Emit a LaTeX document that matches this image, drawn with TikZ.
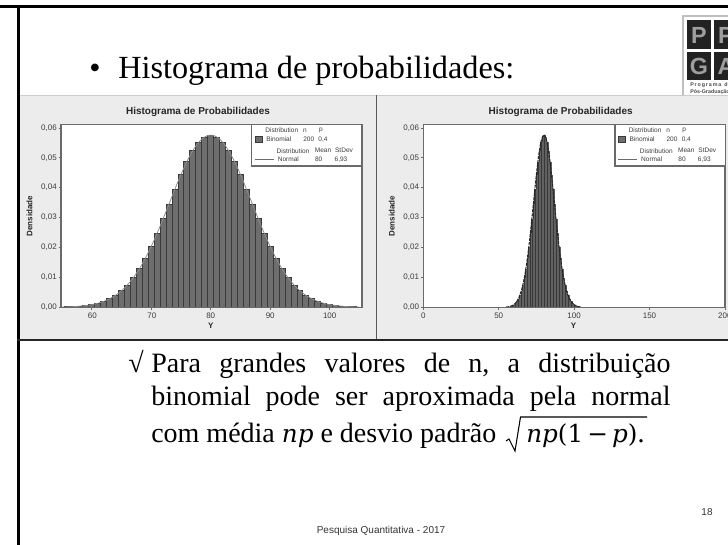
\documentclass[tikz,border=0pt]{standalone}
\usepackage{fontspec}
\setmainfont{Liberation Serif}
\setsansfont{Liberation Sans}
\newfontfamily\mathlike{DejaVu Serif}
\definecolor{panelbg}{HTML}{ECECEC}
\definecolor{axisc}{HTML}{6A6A6A}
\definecolor{barfill}{HTML}{6E6E6E}
\definecolor{baredge}{HTML}{3A3A3A}
\definecolor{tilec}{HTML}{222222}
\definecolor{inkc}{HTML}{3C3C3C}
\newcommand{\pxfont}[1]{\fontsize{#1}{#1}\selectfont}
\newcommand{\mvar}[1]{{\mathlike\itshape\pxfont{18.5}#1}}
\tikzset{
  x=.75pt,y=-.75pt,
  tick/.style={font=\sffamily\pxfont{6}, text=inkc, inner sep=0pt},
  legendtxt/.style={font=\sffamily\pxfont{4.9}, text=inkc, inner sep=0pt},
  ptitle/.style={font=\sffamily\bfseries\pxfont{7.5}, text=black!85, inner sep=0pt},
  axlab/.style={font=\sffamily\bfseries\pxfont{6}, text=black!85, inner sep=0pt},
  slide/.style={font=\rmfamily\pxfont{21}, inner sep=0pt, anchor=base west},
  tiletxt/.style={font=\sffamily\bfseries\pxfont{17.5}, text=black!38, inner sep=0pt},
}
\newcommand{\legendblock}[2]{% #1 dx, #2 prefix
  \fill[white] (251.7+#1,124.7) rectangle (362+#1,166);
  \draw[axisc,line width=.8pt] (251.7+#1,124.7) rectangle (362+#1,166);
  \fill[barfill] (255+#1,136) rectangle (262+#1,142.5);
  \draw[baredge,line width=.5pt] (255+#1,136) rectangle (262+#1,142.5);
  \draw[axisc,line width=.6pt] (255+#1,159.6) -- (273.5+#1,159.6);
  \node[legendtxt] (#2ld1) at (281.8+#1,130.5) {Distribution};
  \node[legendtxt] (#2ln) at (305+#1,130.5) {n};
  \node[legendtxt] (#2lp) at (321+#1,130.5) {p};
  \node[legendtxt,anchor=west] (#2lb) at (266+#1,139.5) {Binomial};
  \node[legendtxt] (#2l200) at (308.7+#1,139.5) {200};
  \node[legendtxt] (#2l04) at (323+#1,139.5) {0,4};
  \node[legendtxt] (#2ld2) at (293+#1,150.7) {Distribution};
  \node[legendtxt] (#2lm) at (323+#1,150.7) {Mean};
  \node[legendtxt] (#2ls) at (344+#1,150.7) {StDev};
  \node[legendtxt,anchor=west] (#2lnr) at (277.6+#1,159.6) {Normal};
  \node[legendtxt] (#2l80) at (318.7+#1,159.6) {80};
  \node[legendtxt] (#2l693) at (341+#1,159.6) {6,93};
}
\newcommand{\yaxis}[3]{% #1 plot left, #2 dx, #3 prefix
  \foreach \d in {0,...,6}{
    \draw[axisc,line width=.5pt] (#1-2.5,307.3-29.9*\d) -- (#1,307.3-29.9*\d);
  }
  \node[tick,anchor=east] (#3y0) at (#1-4,307.3) {0,00};
  \node[tick,anchor=east] (#3y1) at (#1-4,277.4) {0,01};
  \node[tick,anchor=east] (#3y2) at (#1-4,247.5) {0,02};
  \node[tick,anchor=east] (#3y3) at (#1-4,217.6) {0,03};
  \node[tick,anchor=east] (#3y4) at (#1-4,187.7) {0,04};
  \node[tick,anchor=east] (#3y5) at (#1-4,157.8) {0,05};
  \node[tick,anchor=east] (#3y6) at (#1-4,127.9) {0,06};
  \node[axlab,rotate=90] (#3yl) at (#1-31.5,216) {Densidade};
}
\begin{document}
\begin{tikzpicture}
\useasboundingbox (0,0) rectangle (728,545);
\fill[white] (0,0) rectangle (728,545);
\begin{scope}
\clip (0,0) rectangle (728,545);
% slide frame
\draw[black,line width=1.6pt] (0,6.5) -- (728,6.5);
\draw[black,line width=1.6pt] (18.5,6) -- (18.5,545);
% logo
\fill[white] (683,16) rectangle (728,96);
\draw[black!25,line width=1pt] (683,96) -- (683,16) -- (728,16);
\fill[tilec] (687.3,20) rectangle (710.7,49.3);
\fill[tilec] (713.7,20) rectangle (737,49.3);
\fill[tilec] (687.3,51.7) rectangle (710.7,80);
\fill[tilec] (713.7,51.7) rectangle (737,80);
\node[tiletxt] (lp1) at (699,35) {P};
\node[tiletxt] (lp2) at (726,35) {P};
\node[tiletxt] (lg) at (699,66) {G};
\node[tiletxt] (la) at (726,66) {A};
\node[font=\sffamily\bfseries\pxfont{4}, text=black!70, inner sep=0pt, anchor=west] (lt1) at (690,85) {P\,r\,o\,g\,r\,a\,m\,a\ \ d\,e};
\node[font=\sffamily\bfseries\pxfont{4}, text=black!70, inner sep=0pt, anchor=west] (lt2) at (690,92) {Pós-Graduação};
% panels
\fill[panelbg] (19.5,95) rectangle (728,340);
\draw[black!20,line width=.6pt] (19.5,95) -- (728,95);
\draw[black!65,line width=1pt] (376.8,95) -- (376.8,340);
\draw[black!85,line width=1pt] (17,340) -- (728,340);
% left chart
\fill[white] (61,124.7) rectangle (362,307.3);
\foreach \v in {55,...,105}{
  \pgfmathsetmacro{\h}{172.1*exp(-(\v-80)*(\v-80)/96.05)}
  \fill[barfill] (210.7+5.95*\v-476-2.975,307.3-\h) rectangle (210.7+5.95*\v-476+2.975,307.3);
  \draw[baredge,line width=.65pt] (210.7+5.95*\v-476-2.975,307.3) -- (210.7+5.95*\v-476-2.975,307.3-\h) -- (210.7+5.95*\v-476+2.975,307.3-\h) -- (210.7+5.95*\v-476+2.975,307.3);
}
\draw[black!45,line width=.6pt,domain=55:105,samples=120,smooth] plot ({210.7+5.95*\x-476},{307.3-172.1*exp(-(\x-80)*(\x-80)/96.05)});
\draw[axisc,line width=.9pt] (61,124.7) rectangle (362,307.3);
\foreach \v in {60,70,80,90,100}{
  \draw[axisc,line width=.5pt] (210.7+5.95*\v-476,307.3) -- (210.7+5.95*\v-476,309.8);
}
\node[tick] (ax60) at (92.3,315.7) {60};
\node[tick] (ax70) at (151.8,315.7) {70};
\node[tick] (ax80) at (210.7,315.7) {80};
\node[tick] (ax90) at (270.2,315.7) {90};
\node[tick] (ax100) at (329.7,315.7) {100};
\node[axlab] (axy) at (210.7,326) {Y};
\node[ptitle] (at) at (198,111.7) {Histograma de Probabilidades};
\yaxis{61}{0}{a}
\legendblock{0}{a}
% right chart
\fill[white] (423.3,124.7) rectangle (725,307.3);
\foreach \v in {55,...,105}{
  \pgfmathsetmacro{\h}{172.1*exp(-(\v-80)*(\v-80)/96.05)}
  \fill[black!78] (423.3+1.508*\v-.77,307.3-\h) rectangle (423.3+1.508*\v+.77,307.3);
}
\foreach \v in {55,...,105}{
  \pgfmathsetmacro{\h}{172.1*exp(-(\v-80)*(\v-80)/96.05)}
  \draw[black!62,line width=.2pt] (423.3+1.508*\v+.754,307.3-\h) -- (423.3+1.508*\v+.754,307.3);
}
\draw[black!85,line width=.8pt,dash pattern=on 2.4pt off .7pt,domain=55:105,samples=120,smooth] plot ({423.3+1.508*\x},{307.3-172.1*exp(-(\x-80)*(\x-80)/96.05)});
\draw[axisc,line width=.9pt] (423.3,124.7) rectangle (725,307.3);
\foreach \v in {0,50,100,150,200}{
  \draw[axisc,line width=.5pt] (423.3+1.508*\v,307.3) -- (423.3+1.508*\v,309.8);
}
\node[tick] (bx0) at (423.3,315.7) {0};
\node[tick] (bx50) at (498.7,315.7) {50};
\node[tick] (bx100) at (574.1,315.7) {100};
\node[tick] (bx150) at (649.5,315.7) {150};
\node[tick] (bx200) at (724.9,315.7) {200};
\node[axlab] (bxy) at (573.5,326) {Y};
\node[ptitle] (bt) at (560.7,111.7) {Histograma de Probabilidades};
\yaxis{423.3}{0}{b}
\legendblock{363.3}{b}
% slide text
\node[font=\rmfamily\pxfont{24}, inner sep=0pt, anchor=base] (bul) at (95,79) {•};
\node[slide,font=\rmfamily\pxfont{24.2}] (title) at (118,79) {Histograma de probabilidades:};
\node[slide] (chk) at (128,372) {√};
\node[slide] (l1) at (151,372) {\hbox to 389.5pt{Para\hfill grandes\hfill valores\hfill de\hfill n,\hfill a\hfill distribuição}};
\node[slide] (l2) at (151,405) {\hbox to 389.5pt{binomial\hfill pode\hfill ser\hfill aproximada\hfill pela\hfill normal}};
\node[slide] (l3) at (151,442) {com média \mvar{np} e desvio padrão};
\node[slide] (l3b) at (526,442) {\mvar{np}{\mathlike\pxfont{18.5}(1\,−\,}\mvar{p}{\mathlike\pxfont{18.5})}.};
\draw[black,line width=.8pt] (506,441) -- (509,439) -- (515,451) -- (520.5,417) -- (647,417);
\node[font=\sffamily\pxfont{7.5}, inner sep=0pt, text=black!80] (foot) at (381,530.7) {Pesquisa Quantitativa - 2017};
\node[font=\sffamily\pxfont{7.5}, inner sep=0pt, text=black!80] (num) at (707,511.7) {18};
\end{scope}
\end{tikzpicture}
\end{document}
